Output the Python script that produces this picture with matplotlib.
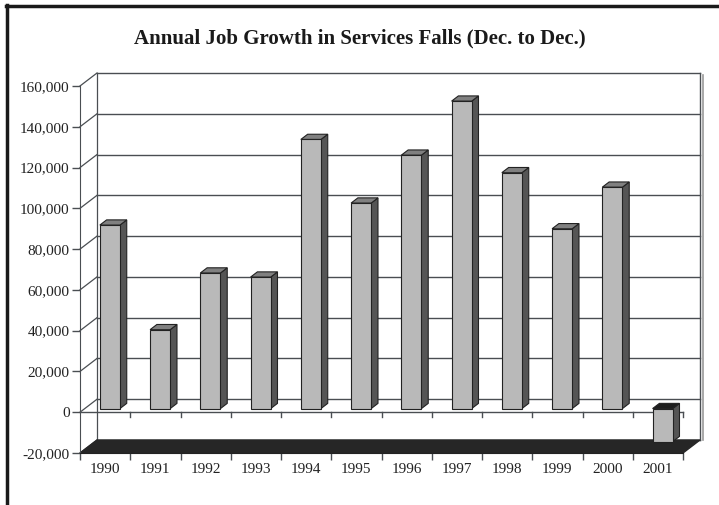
import numpy as np
import matplotlib.pyplot as plt
from matplotlib.lines import Line2D

plt.rcParams['font.family'] = ['Liberation Serif', 'DejaVu Serif']

years = ['1990', '1991', '1992', '1993', '1994', '1995',
         '1996', '1997', '1998', '1999', '2000', '2001']
job_growth = [90000, 38700, 66500, 64500, 132000, 100800,
              124300, 150800, 115700, 88200, 108600, -16200]
y_ticks = [-20000, 0, 20000, 40000, 60000, 80000, 100000, 120000, 140000, 160000]
y_labels = ['-20,000', '0', '20,000', '40,000', '60,000', '80,000',
            '100,000', '120,000', '140,000', '160,000']
title = 'Annual Job Growth in Services Falls (Dec. to Dec.)'

W, H = 719, 505
fig = plt.figure(figsize=(W/100, H/100), dpi=100)
ax = fig.add_axes([80/W, 52/H, 603/W, 367/H])

n = len(years)
ymin, ymax = y_ticks[0], y_ticks[-1]
ax.set_xlim(0, n)
ax.set_ylim(ymin, ymax)

# oblique depth of the box, in data units
px_x = n/603
px_y = (ymax - ymin)/367
DX = 17*px_x
DY = 13*px_y

grid_c = '#4a4e52'
# back wall and side wall
for yv in y_ticks:
    ax.plot([DX, n + DX], [yv + DY, yv + DY], color=grid_c, lw=1.0, zorder=1, clip_on=False)
    ax.plot([0, DX], [yv, yv + DY], color=grid_c, lw=0.9, zorder=1, clip_on=False)
ax.plot([DX, DX], [ymin + DY, ymax + DY], color=grid_c, lw=0.9, zorder=1, clip_on=False)
ax.plot([n + DX, n + DX], [ymin + DY, ymax + DY], color=grid_c, lw=1.0, zorder=1, clip_on=False)
ax.plot([n + DX + 3*px_x]*2, [ymin + DY, ymax + DY - 2*px_y], color='#9a9a9a', lw=1.2, zorder=1, clip_on=False)

# floor slab at the bottom of the scale
ax.fill([0, n, n + DX, DX], [ymin, ymin, ymin + DY, ymin + DY],
        color='#262626', zorder=2, clip_on=False)

# front zero line with ticks at category edges
ax.plot([0, n], [0, 0], color=grid_c, lw=1.0, zorder=2, clip_on=False)
for i in range(1, n + 1):
    ax.plot([i, i], [0, -5*px_y], color=grid_c, lw=1.0, zorder=2, clip_on=False)

# 3-D bars
bw = 0.4
d0, d1 = 0.28, 0.68
ox0, oy0 = d0*DX, d0*DY
ox1, oy1 = d1*DX, d1*DY
x_left = np.arange(n) + 0.5 - bw/2 + ox0
edge = '#222222'
for xl, v in zip(x_left, job_growth):
    top = max(v, 0)
    bot = min(v, 0)
    ax.bar(xl, v, width=bw, bottom=oy0, align='edge', color='#b9b9b9',
           edgecolor=edge, lw=0.8, zorder=4)
    xr = xl + bw
    ax.fill([xr, xr + ox1 - ox0, xr + ox1 - ox0, xr],
            [bot + oy0, bot + oy1, top + oy1, top + oy0],
            facecolor='#555555', edgecolor=edge, lw=0.8, zorder=3, clip_on=False)
    top_c = '#808080' if v > 0 else '#1e1e1e'
    ax.fill([xl, xr, xr + ox1 - ox0, xl + ox1 - ox0],
            [top + oy0, top + oy0, top + oy1, top + oy1],
            facecolor=top_c, edgecolor=edge, lw=0.8, zorder=3, clip_on=False)

# axes, ticks and labels
for s in ['top', 'right']:
    ax.spines[s].set_visible(False)
ax.spines['left'].set_color(grid_c)
ax.spines['bottom'].set_color('#222222')
ax.set_yticks(y_ticks)
ax.set_yticklabels(y_labels)
ax.set_xticks(np.arange(n + 1))
ax.set_xticklabels([])
ax.set_xticks(np.arange(n) + 0.5, minor=True)
ax.set_xticklabels(years, minor=True)
ax.tick_params(axis='y', direction='out', length=6, width=1, color=grid_c,
               labelsize=11, pad=1.5, labelcolor='#222222')
ax.tick_params(axis='x', which='major', direction='out', length=5, width=1, color=grid_c)
ax.tick_params(axis='x', which='minor', length=0, labelsize=11, pad=7, labelcolor='#222222')
ax.patch.set_alpha(0)

fig.text(0.5, 1 - 38/H, title, ha='center', va='center', fontsize=15,
         fontweight='bold', color='#1a1a1a')

# page frame
fig.add_artist(Line2D([7/W, 7/W], [0, 1 - 5/H], color='#1a1a1a', lw=2.5))
fig.add_artist(Line2D([6/W, 1], [1 - 5.5/H, 1 - 5.5/H], color='#1a1a1a', lw=2.5))

fig.savefig('out.png', dpi=100)
